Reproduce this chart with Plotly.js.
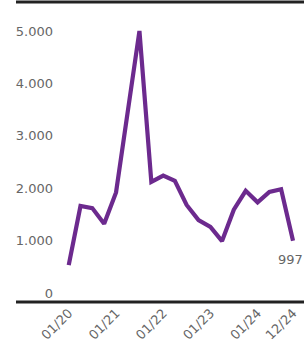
<!DOCTYPE html>
<html>
<head>
<meta charset="utf-8">
<script src="https://cdn.plot.ly/plotly-3.0.1.min.js"></script>
<style>html,body{margin:0;padding:0;background:#fff;}#chart{width:304px;height:344px;}</style>
</head>
<body>
<div id="chart"></div>
<script>
// Quarterly data, Q1 2020 – Q4 2024
var dates = [
  '2020-01-01','2020-04-01','2020-07-01','2020-10-01',
  '2021-01-01','2021-04-01','2021-07-01','2021-10-01',
  '2022-01-01','2022-04-01','2022-07-01','2022-10-01',
  '2023-01-01','2023-04-01','2023-07-01','2023-10-01',
  '2024-01-01','2024-04-01','2024-07-01','2024-10-01'
];
var values = [
  530, 1660, 1620, 1320,
  1920, 3400, 5000, 2120,
  2240, 2140, 1680, 1390,
  1260, 990, 1590, 1950,
  1730, 1930, 1980, 997
];
var tickVals = ['2020-01-01','2021-01-01','2022-01-01','2023-01-01','2024-01-01','2024-10-01'];
var tickText = ['01/20','01/21','01/22','01/23','01/24','12/24'];
var yTickVals = [0, 1000, 2000, 3000, 4000, 5000];
var yTickText = ['0', '1.000', '2.000', '3.000', '4.000', '5.000'];
var lastLabel = '997';

var font = {family: 'DejaVu Sans, sans-serif', size: 13, color: '#666666'};
var last = values.length - 1;

var trace = {
  x: dates, y: values, type: 'scatter', mode: 'lines',
  line: {color: '#6c2a8e', width: 4.2, shape: 'linear'},
  hoverinfo: 'skip', cliponaxis: false
};

var plotLeft = 58, plotWidth = 304 - plotLeft;
var layout = {
  width: 304, height: 344,
  margin: {l: plotLeft, r: 0, t: 2, b: 42, pad: 0},
  paper_bgcolor: '#ffffff', plot_bgcolor: '#ffffff',
  showlegend: false,
  font: font,
  xaxis: {
    type: 'date', range: ['2019-10-10', '2024-12-25'],
    tickmode: 'array', tickvals: tickVals, ticktext: tickText,
    tickangle: -45, showgrid: false, zeroline: false, showline: false,
    ticks: '', tickfont: font, ticklabeloverflow: 'allow', fixedrange: true
  },
  yaxis: {
    range: [-172, 5553],
    tickmode: 'array', tickvals: yTickVals, ticktext: yTickText,
    showgrid: false, zeroline: false, showline: false,
    ticks: '', tickfont: font, ticklabelstandoff: 4, fixedrange: true
  },
  shapes: [
    {type: 'line', xref: 'paper', yref: 'paper', x0: -(plotLeft - 16) / plotWidth, x1: 1, y0: 1, y1: 1,
     line: {color: '#222222', width: 3}},
    {type: 'line', xref: 'paper', yref: 'paper', x0: -(plotLeft - 16) / plotWidth, x1: 1, y0: 0, y1: 0,
     line: {color: '#222222', width: 3}}
  ],
  annotations: [
    {x: dates[last], y: values[last], xref: 'x', yref: 'y', text: lastLabel,
     showarrow: false, yshift: -19, xshift: -3, xanchor: 'center', font: font}
  ]
};

Plotly.newPlot('chart', [trace], layout, {displayModeBar: false, staticPlot: true});
</script>
</body>
</html>
